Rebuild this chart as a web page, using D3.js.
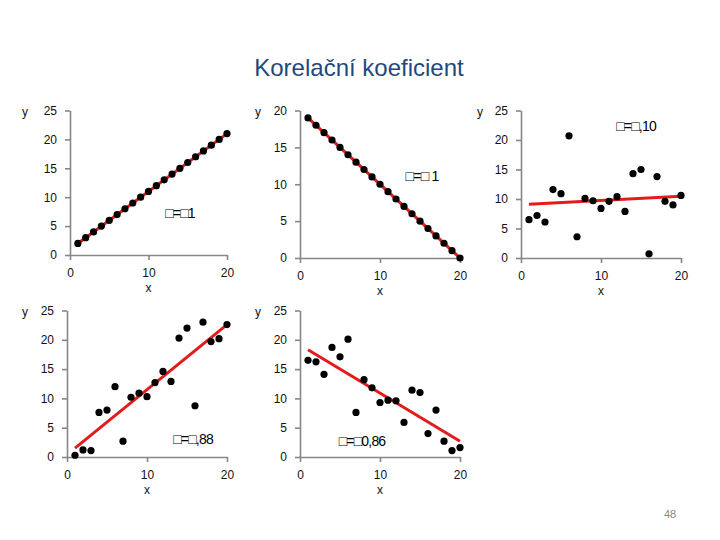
<!DOCTYPE html>
<html><head><meta charset="utf-8">
<script src="https://cdn.jsdelivr.net/npm/d3@7"></script>
<style>
html,body{margin:0;padding:0;background:#fff;}
svg text{font-family:"Liberation Sans",Arial,sans-serif;}
</style>
</head><body>
<svg id="c" width="720" height="540"></svg>
<script>
// ---- data ----
const title = "Korelační koeficient";
const xValues = [1,2,3,4,5,6,7,8,9,10,11,12,13,14,15,16,17,18,19,20];
const yPerfectPos = [2,3,4,5,6,7,8,9,10,11,12,13,14,15,16,17,18,19,20,21];
const yPerfectNeg = [19,18,17,16,15,14,13,12,11,10,9,8,7,6,5,4,3,2,1,0];
const yWeak = [6.5,7.2,6.1,11.6,10.9,20.7,3.6,10.1,9.7,8.4,9.6,10.4,7.9,14.3,15.0,0.7,13.8,9.6,9.0,10.6];
const yStrongPos = [0.3,1.2,1.1,7.6,8.0,12.0,2.7,10.2,10.9,10.3,12.7,14.6,12.9,20.3,22.0,8.75,23.0,19.7,20.2,22.6];
const yStrongNeg = [16.5,16.25,14.1,18.7,17.1,20.1,7.6,13.2,11.8,9.3,9.7,9.6,5.9,11.4,11.0,4.0,8.0,2.7,1.1,1.6];
const labels = ["\u25A1=\u25A11","\u25A1=\u25A1 1","\u25A1=\u25A1,10","\u25A1=\u25A1,88","\u25A1=\u25A10,86"];
const yMaxes = [25,20,25,25,25];
const xTicks = [0,10,20];
const pageNumber = "48";

// ---- layout ----
const layout = [
  {x0:70,x1:227,yTop:110.5,yBot:255,lx:180,ly:218,ylx:25},
  {x0:300,x1:460,yTop:110.5,yBot:258,lx:422,ly:181,ylx:258},
  {x0:521,x1:681,yTop:110.5,yBot:258,lx:636,ly:131,ylx:480},
  {x0:67,x1:227,yTop:310.5,yBot:457,lx:193,ly:444,ylx:25},
  {x0:300,x1:460,yTop:310.5,yBot:457,lx:362,ly:446,ylx:258}
];
const series = [yPerfectPos,yPerfectNeg,yWeak,yStrongPos,yStrongNeg];

const svg = d3.select("#c");
svg.append("text").attr("x",359).attr("y",76).attr("text-anchor","middle")
  .attr("font-size",24).attr("fill","#1F497D").text(title);
svg.append("text").attr("x",670).attr("y",518).attr("text-anchor","middle")
  .attr("font-size",11).attr("fill","#888").text(pageNumber);

function regression(xs, ys){
  const n=xs.length, mx=d3.mean(xs), my=d3.mean(ys);
  let sxy=0,sxx=0;
  for(let i=0;i<n;i++){sxy+=(xs[i]-mx)*(ys[i]-my);sxx+=(xs[i]-mx)**2;}
  const b=sxy/sxx, a=my-b*mx;
  return x=>a+b*x;
}

series.forEach((ys,i)=>{
  const L = layout[i];
  const x = d3.scaleLinear().domain([0,20]).range([L.x0,L.x1]);
  const y = d3.scaleLinear().domain([0,yMaxes[i]]).range([L.yBot,L.yTop]);
  const g = svg.append("g");
  const xa = g.append("g").attr("transform",`translate(0,${L.yBot})`)
    .call(d3.axisBottom(x).tickValues(xTicks).tickSize(5).tickSizeOuter(0).tickPadding(8));
  const ya = g.append("g").attr("transform",`translate(${L.x0},0)`)
    .call(d3.axisLeft(y).ticks(yMaxes[i]/5).tickSize(5).tickSizeOuter(0).tickPadding(8));
  [xa,ya].forEach(a=>{
    a.selectAll("path,line").attr("stroke","#878787").attr("stroke-width",1.6);
    a.selectAll("text").attr("font-size",12).attr("fill","#111").attr("font-family","Liberation Sans, Arial, sans-serif");
  });
  // axis titles
  g.append("text").attr("x",(L.x0+L.x1)/2).attr("y",L.yBot+37).attr("text-anchor","middle")
    .attr("font-size",12).attr("fill","#111").text("x");
  g.append("text").attr("x",L.ylx).attr("y",L.yTop+5).attr("text-anchor","middle")
    .attr("font-size",12).attr("fill","#111").text("y");
  // trend line
  const f = regression(xValues, ys);
  const xmin = d3.min(xValues), xmax = d3.max(xValues);
  g.append("line").attr("x1",x(xmin)).attr("y1",y(f(xmin))).attr("x2",x(xmax)).attr("y2",y(f(xmax)))
    .attr("stroke","#E31B1B").attr("stroke-width",3);
  // points
  g.selectAll("circle").data(xValues.map((xv,k)=>[xv,ys[k]])).join("circle")
    .attr("cx",d=>x(d[0])).attr("cy",d=>y(d[1])).attr("r",3.6).attr("fill","#000");
  // correlation label
  g.append("text").attr("x",L.lx).attr("y",L.ly).attr("text-anchor","middle")
    .attr("font-size",14).attr("fill","#000").attr("letter-spacing",-0.8).text(labels[i]);
});
</script>
</body></html>
